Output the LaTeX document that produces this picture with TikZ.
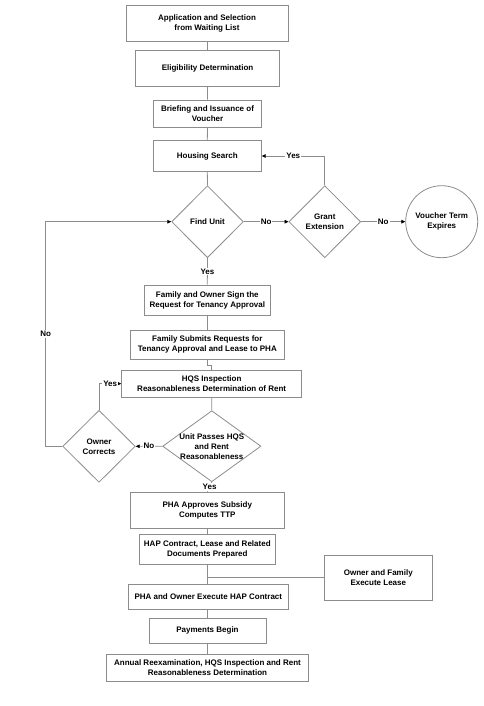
\documentclass[tikz,border=0pt]{standalone}
\usepackage{fontspec}
\setmainfont{Liberation Sans}
\usetikzlibrary{shapes.geometric,arrows.meta}
\definecolor{lc}{RGB}{140,140,140}
\begin{document}
\begin{tikzpicture}[x=1pt,y=-1pt,
  every node/.style={font=\fontsize{8}{10}\selectfont\bfseries, align=center},
  box/.style={draw=lc, line width=0.8pt, rectangle, inner sep=0pt},
  dia/.style={draw=lc, line width=0.8pt, diamond, inner sep=0pt},
  circ/.style={draw=lc, line width=0.8pt, circle, inner sep=0pt, minimum size=72pt},
  con/.style={draw=lc, line width=0.8pt},
  arr/.style={con, -{Triangle[length=4pt,width=3.6pt,color=black]}},
  lab/.style={fill=white, inner sep=1pt}]
\useasboundingbox (0,0) rectangle (484,706);
% boxes
\node[box, minimum width=162, minimum height=36.7] (app) at (207,23.3) {Application and Selection\\from Waiting List};
\node[box, minimum width=144, minimum height=36] (elig) at (207.6,68.7) {Eligibility Determination};
\node[box, minimum width=108.4, minimum height=27.3] (brief) at (207.5,113.7) {Briefing and Issuance of\\Voucher};
\node[box, minimum width=108, minimum height=30.6] (hs) at (207.3,156) {Housing Search};
\node[dia, minimum width=71.7, minimum height=72] (find) at (207.5,221.7) {};
\node (findT) at (find) {Find Unit};
\node[dia, minimum width=71.7, minimum height=72] (grant) at (324.8,221.7) {};
\node (grantT) at (grant) {Grant\\Extension};
\node[circ] (exp) at (441.7,221.7) {Voucher Term\\Expires};
\node[box, minimum width=126, minimum height=30] (sign) at (207.3,300) {Family and Owner Sign the\\Request for Tenancy Approval};
\node[box, minimum width=153.3, minimum height=29.3] (sub) at (207.3,344.7) {Family Submits Requests for\\Tenancy Approval and Lease to PHA};
\node[box, minimum width=180, minimum height=27.3] (hqs) at (211.7,383.7) {HQS Inspection\\Reasonableness Determination of Rent};
\node[dia, minimum width=98.3, minimum height=71] (pass) at (211.8,446.2) {};
\node (passT) at (pass) {Unit Passes HQS\\and Rent\\Reasonableness};
\node[dia, minimum width=72.6, minimum height=72] (own) at (99,446.3) {};
\node (ownT) at (own) {Owner\\Corrects};
\node[box, minimum width=153.3, minimum height=36.3] (pha) at (207.3,510.2) {PHA Approves Subsidy\\Computes TTP};
\node[box, minimum width=135.3, minimum height=29.7] (hap) at (207.3,549.2) {HAP Contract, Lease and Related\\Documents Prepared};
\node[box, minimum width=108, minimum height=45] (lease) at (378.3,577.5) {Owner and Family\\Execute Lease};
\node[box, minimum width=160, minimum height=24.7] (phx) at (208.3,596.7) {PHA and Owner Execute HAP Contract};
\node[box, minimum width=117, minimum height=24.7] (pay) at (207.5,630.7) {Payments Begin};
\node[box, minimum width=202.4, minimum height=27] (ann) at (207.5,667.5) {Annual Reexamination, HQS Inspection and Rent\\Reasonableness Determination};
% connectors
\draw[con] (app.south -| elig.north) -- (elig.north);
\draw[con] (elig.south) -- (brief.north);
\draw[con] (brief.south) -- (hs.north);
\draw[con] (hs.south) -- (find.north);
\draw[arr] (find.east) -- node[lab] {No} (grant.west);
\draw[arr] (grant.east) -- node[lab] {No} (exp.west);
\draw[arr] (grant.north) |- node[lab, pos=0.75] {Yes} (hs.east);
\draw[con] (find.south) -- node[lab] {Yes} (sign.north);
\draw[con] (sign.south) -- (sub.north);
\draw[con] (sub.south) -- ++(0,5.7) -| (hqs.north);
\draw[con] (hqs.south) -- (pass.north);
\draw[arr] (pass.west) -- node[lab] {No} (own.east);
\draw[arr] (own.north) |- node[lab, pos=0.75] {Yes} (hqs.west);
\coordinate (lc) at (45.7,446.3);
\draw[arr] (own.west) -- (lc) |- node[lab, pos=0.25] {No} (find.west);
\draw[con] (pass.south) -- node[lab] {Yes} (pha.north);
\draw[con] (pha.south) -- (hap.north);
\draw[con] (hap.south) -- (hap.south |- phx.north);
\coordinate (j) at (hap.south |- lease.west);
\draw[con] (j) -- (lease.west);
\draw[con] (phx.south -| pay.north) -- (pay.north);
\draw[con] (pay.south) -- (ann.north);
\end{tikzpicture}
\end{document}
